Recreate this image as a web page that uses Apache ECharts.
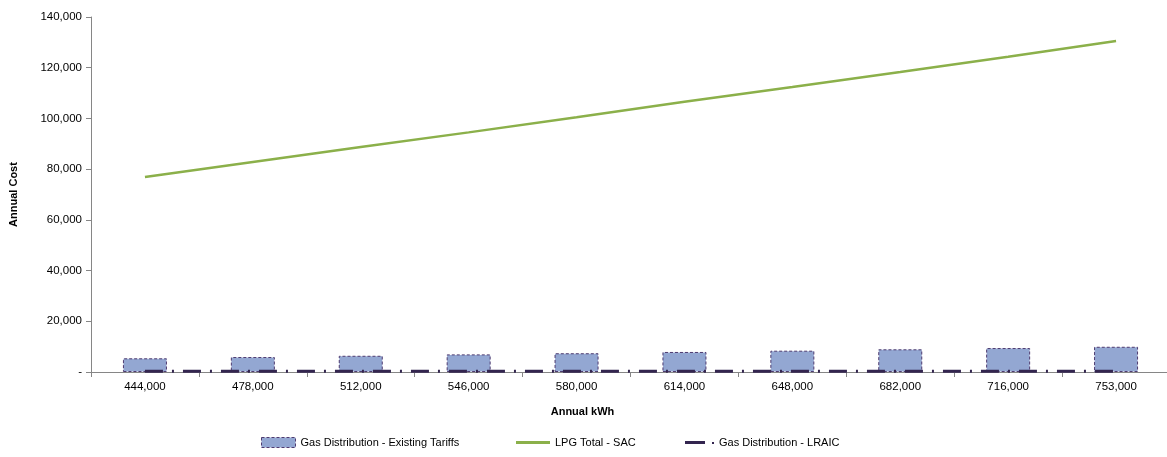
<!DOCTYPE html>
<html>
<head>
<meta charset="utf-8">
<script src="https://cdn.jsdelivr.net/npm/echarts@6/dist/echarts.min.js"></script>
<style>
  html, body { margin: 0; padding: 0; background: #fff; }
  #main-chart { width: 1167px; height: 457px; }
</style>
</head>
<body>
<div id="main-chart"></div>
<script>
// Annual consumption (x axis categories)
const categories = ['444,000', '478,000', '512,000', '546,000', '580,000', '614,000', '648,000', '682,000', '716,000', '753,000'];
// Gas Distribution - Existing Tariffs (bars)
const existingTariffs = [5400, 5900, 6400, 6950, 7400, 7900, 8400, 8950, 9450, 9950];
// LPG Total - SAC (green line)
const lpgTotal = [76900, 82800, 88700, 94500, 100500, 106600, 112400, 118300, 124300, 130500];
// Gas Distribution - LRAIC (dash-dot line, close to zero)
const lraic = [300, 300, 300, 300, 300, 300, 300, 300, 300, 300];
// y axis ticks
const yTicks = [0, 20000, 40000, 60000, 80000, 100000, 120000, 140000];

const chartDom = document.getElementById('main-chart');
const myChart = echarts.init(chartDom);

const fontFamily = 'Liberation Sans, Arial, sans-serif';
const legendText = { fontSize: 11, color: '#000', fontFamily: fontFamily };

const option = {
    animation: false,
    textStyle: { fontFamily: fontFamily },
    grid: { left: 91, right: -3, top: 17, bottom: 85, containLabel: false, outerBoundsMode: 'none' },
    legend: [
        {
            data: [{ name: 'Gas Distribution - Existing Tariffs', icon: 'rect' }],
            left: 256, top: 432,
            itemWidth: 34, itemHeight: 10, itemGap: 0,
            itemStyle: { borderColor: '#4E3B70', borderWidth: 1, borderType: [3, 2] },
            textStyle: legendText
        },
        {
            data: [{ name: 'LPG Total - SAC', icon: 'rect' }],
            left: 511, top: 432,
            itemWidth: 34, itemHeight: 3,
            textStyle: legendText
        },
        {
            data: [{ name: 'Gas Distribution - LRAIC', icon: 'path://M0,0H20V3H0Z M27,1H29V3H27Z' }],
            left: 680, top: 432,
            itemWidth: 29, itemHeight: 3,
            textStyle: legendText
        }
    ],
    xAxis: {
        type: 'category',
        data: categories,
        boundaryGap: true,
        name: 'Annual kWh',
        nameLocation: 'middle',
        nameGap: 34,
        nameTextStyle: { fontWeight: 'bold', fontSize: 11, color: '#000', padding: [0, 96, 0, 0] },
        axisLine: { lineStyle: { color: '#868686', width: 1 } },
        axisTick: { show: true, alignWithLabel: false, length: 5, lineStyle: { color: '#868686' } },
        axisLabel: { color: '#000', fontSize: 11.5, margin: 9, interval: 0 },
        splitLine: { show: false }
    },
    yAxis: {
        type: 'value',
        min: yTicks[0],
        max: yTicks[yTicks.length - 1],
        interval: 20000,
        name: 'Annual Cost',
        nameLocation: 'middle',
        nameGap: 72,
        nameTextStyle: { fontWeight: 'bold', fontSize: 11, color: '#000' },
        axisLine: { show: true, lineStyle: { color: '#868686', width: 1 } },
        axisTick: { show: true, length: 5, lineStyle: { color: '#868686' } },
        axisLabel: {
            color: '#000', fontSize: 11.5, margin: 9,
            formatter: function (v) { return v === 0 ? '-' : v.toLocaleString('en-US'); }
        },
        splitLine: { show: false }
    },
    series: [
        {
            name: 'Gas Distribution - Existing Tariffs',
            type: 'bar',
            data: existingTariffs,
            barWidth: 44,
            itemStyle: { color: '#93A7D2', borderColor: '#4E3B70', borderWidth: 1, borderType: [3, 2] },
            z: 2
        },
        {
            name: 'LPG Total - SAC',
            type: 'line',
            data: lpgTotal,
            symbol: 'none',
            lineStyle: { color: '#8BB04A', width: 2.5 },
            itemStyle: { color: '#8BB04A' },
            z: 3
        },
        {
            name: 'Gas Distribution - LRAIC',
            type: 'line',
            data: lraic,
            symbol: 'none',
            lineStyle: { color: '#33254F', width: 3, type: [18, 9, 2, 9] },
            itemStyle: { color: '#33254F' },
            z: 4
        }
    ]
};

myChart.setOption(option);
</script>
</body>
</html>
